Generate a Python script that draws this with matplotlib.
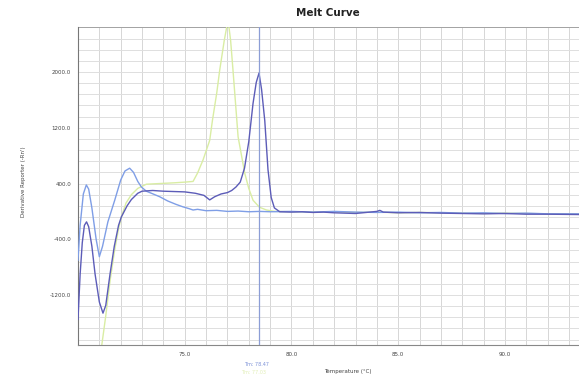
import numpy as np
import matplotlib
matplotlib.use("Agg")
import matplotlib.pyplot as plt

# melt curve data (temperature degC, derivative)
t_dark = [70.0, 70.1, 70.2, 70.3, 70.4, 70.5, 70.65, 70.8, 71.0, 71.17, 71.3, 71.5,
          71.7, 71.9, 72.03, 72.3, 72.5, 72.8, 73.0, 73.5, 74.0, 74.5, 75.0, 75.5,
          75.9, 76.17, 76.4, 76.7, 77.0, 77.2, 77.4, 77.6, 77.8, 78.0, 78.2, 78.35,
          78.48, 78.6, 78.75, 78.9, 79.05, 79.2, 79.45, 80.0, 80.5, 81.0, 81.5, 82.0,
          82.5, 83.0, 83.5, 84.0, 84.14, 84.3, 85.0, 86.0, 87.0, 88.0, 89.0, 90.0,
          91.0, 92.0, 93.5]
v_dark = [-1550, -900, -450, -200, -150, -220, -500, -900, -1300, -1460, -1350, -900,
          -500, -200, -80, 80, 170, 260, 290, 300, 290, 285, 280, 260,
          230, 165, 210, 250, 270, 300, 350, 420, 620, 1000, 1550, 1850,
          1985, 1750, 1300, 600, 200, 50, -5, -10, -5, -15, -10, -20,
          -25, -30, -15, 0, 15, -10, -20, -15, -25, -30, -35, -30,
          -40, -40, -45]

t_light = [70.0, 70.1, 70.25, 70.39, 70.5, 70.65, 70.85, 71.0, 71.15, 71.4, 71.72, 72.0,
           72.2, 72.42, 72.6, 72.8, 72.97, 73.2, 73.44, 73.83, 74.2, 74.6, 74.92, 75.2,
           75.39, 75.6, 76.0, 76.5, 77.0, 77.5, 78.0, 78.5, 79.0, 80.0, 81.0, 82.0,
           83.0, 84.0, 85.0, 86.0, 87.0, 88.0, 89.0, 90.0, 91.0, 92.0, 93.5]
v_light = [-700, -200, 250, 380, 320, 50, -400, -650, -500, -150, 160, 450,
           580, 620, 560, 430, 350, 290, 260, 210, 150, 100, 65, 40,
           20, 30, 10, 15, 0, 5, -5, 0, -5, 0, -10, 0,
           -10, -15, -10, -20, -15, -25, -20, -30, -25, -35, -35]

t_green = [71.1, 71.3, 71.5, 71.72, 71.9, 72.03, 72.25, 72.5, 72.8, 73.2, 73.83, 74.5,
           75.0, 75.39, 75.6, 75.86, 76.17, 76.3, 76.5, 76.64, 76.85, 77.03, 77.15, 77.26,
           77.5, 77.81, 78.0, 78.2, 78.5, 78.83, 79.2, 80.0, 81.0, 82.0, 83.0, 84.0,
           85.0, 86.0, 87.0, 88.0, 89.0, 90.0, 91.0, 92.0, 93.5]
v_green = [-1950, -1500, -1000, -550, -250, -80, 120, 240, 330, 390, 400, 410,
           420, 430, 550, 740, 1020, 1310, 1700, 2030, 2450, 2750, 2450, 2030,
           1070, 550, 330, 160, 60, 20, 0, -5, -10, -5, -15, -10,
           -20, -15, -20, -25, -30, -25, -30, -35, -35]

x_ticks = [75.0, 80.0, 85.0, 90.0]
y_ticks = [2000.0, 1200.0, 400.0, -400.0, -1200.0]
tm = 78.47

fig = plt.figure(figsize=(5.79, 3.76), dpi=100)
ax = fig.add_axes([78 / 579, 1 - 345 / 376, 1 - 78 / 579, (345 - 27) / 376])

ax.set_xlim(70, 93.47)
ax.set_ylim(-1917, 2646)

# grid: every 1 degC and every 160 units
for gx in np.arange(71, 94, 1.0):
    ax.axvline(gx, color="#d6d6d6", lw=0.7, zorder=0)
for gy in np.arange(-1840, 2646, 160.0):
    ax.axhline(gy, color="#dedede", lw=0.7, zorder=0)

ax.plot(t_green, v_green, color="#d9eda3", lw=1.0, zorder=2)
ax.plot(t_light, v_light, color="#7f9ee6", lw=1.0, zorder=3)
ax.plot(t_dark, v_dark, color="#5c5cb8", lw=1.0, zorder=4)
ax.axvline(tm, color="#8c9ed6", lw=0.9, zorder=5)

ax.set_xticks(x_ticks)
ax.set_xticklabels(["%.1f" % v for v in x_ticks])
ax.set_yticks(y_ticks)
ax.set_yticklabels(["%.1f" % v for v in y_ticks])
ax.tick_params(length=0, labelsize=4, colors="#444444", pad=5)

for s in ["top", "right"]:
    ax.spines[s].set_visible(False)
ax.spines["left"].set_color("#777777")
ax.spines["bottom"].set_color("#888888")
ax.axhline(2646, color="#999999", lw=1.2, zorder=1)

fig.text(328 / 579, 1 - 13 / 376, "Melt Curve", ha="center", va="center",
         fontsize=7.5, fontweight="bold", color="#222222")
fig.text(348 / 579, 1 - 371 / 376, "Temperature (°C)", ha="center", va="center",
         fontsize=4, color="#444444")
fig.text(24 / 579, 1 - 182 / 376, "Derivative Reporter (-Rn')", ha="center", va="center",
         rotation=90, fontsize=4, color="#444444")
fig.text(257 / 579, 1 - 364 / 376, "Tm: %.2f" % tm, ha="center", va="center",
         fontsize=3.5, color="#7f93d8")
fig.text(254 / 579, 1 - 372 / 376, "Tm: 77.03", ha="center", va="center",
         fontsize=3.5, color="#e2efb8")

fig.savefig("out.png", dpi=100)
